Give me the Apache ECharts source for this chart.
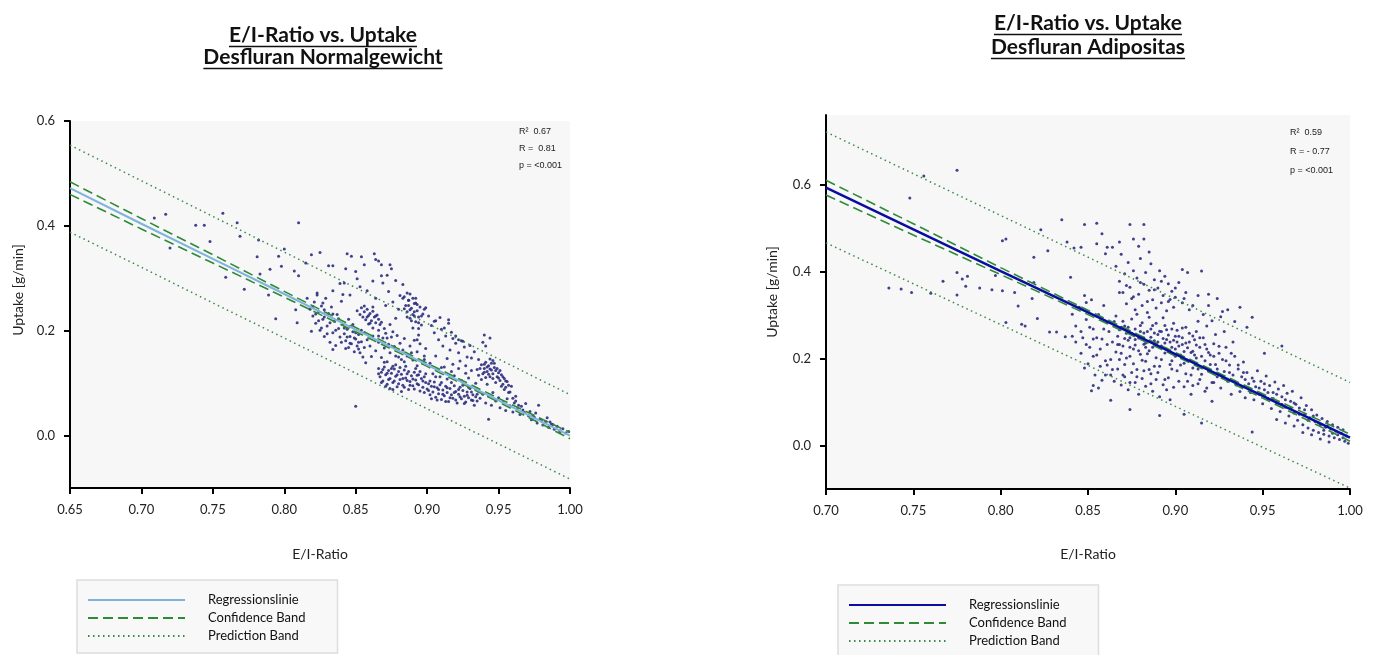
<!DOCTYPE html>
<html><head><meta charset="utf-8">
<script src="https://cdn.jsdelivr.net/npm/echarts@6/dist/echarts.min.js"></script>
<style>
html,body{margin:0;padding:0;background:#fff;}
#wrap{position:relative;width:1375px;height:655px;overflow:hidden;}
#c1{position:absolute;left:0;top:0;width:690px;height:655px;}
#c2{position:absolute;left:690px;top:0;width:685px;height:655px;}
</style></head><body>
<div id="wrap"><div id="c1"></div><div id="c2"></div></div>
<script>
// ---------- texts ----------
const titlesNorm = ['E/I-Ratio vs. Uptake', 'Desfluran Normalgewicht'];
const titlesAdip = ['E/I-Ratio vs. Uptake', 'Desfluran Adipositas'];
const statsNorm = ['R²  0.67', 'R =  0.81', 'p = <0.001'];
const statsAdip = ['R²  0.59', 'R = - 0.77', 'p = <0.001'];
const legendNames = ['Regressionslinie', 'Confidence Band', 'Prediction Band'];
const xAxisName = 'E/I-Ratio';
const yAxisName = 'Uptake [g/min]';
const yTickValues = [0.0, 0.2, 0.4, 0.6];

// ---------- regression / bands : Normalgewicht ----------
const bandXNorm = [0.65, 0.70, 0.75, 0.80, 0.85, 0.90, 0.95, 1.00];
const regNorm   = [0.472, 0.404, 0.337, 0.270, 0.202, 0.135, 0.067, 0.000];
const ciUpNorm  = [0.484, 0.414, 0.345, 0.275, 0.206, 0.138, 0.071, 0.006];
const ciLoNorm  = [0.460, 0.394, 0.329, 0.264, 0.198, 0.132, 0.064, -0.006];
const prUpNorm  = [0.554, 0.486, 0.418, 0.350, 0.282, 0.214, 0.146, 0.078];
const prLoNorm  = [0.388, 0.321, 0.253, 0.186, 0.119, 0.051, -0.016, -0.083];

// ---------- regression / bands : Adipositas ----------
const bandXAdip = [0.70, 0.75, 0.80, 0.85, 0.90, 0.95, 1.00];
const regAdip   = [0.593, 0.497, 0.401, 0.306, 0.210, 0.114, 0.018];
const ciUpAdip  = [0.610, 0.510, 0.409, 0.311, 0.214, 0.119, 0.026];
const ciLoAdip  = [0.576, 0.484, 0.393, 0.301, 0.206, 0.109, 0.010];
const prUpAdip  = [0.721, 0.625, 0.529, 0.433, 0.337, 0.241, 0.145];
const prLoAdip  = [0.466, 0.372, 0.278, 0.184, 0.090, -0.004, -0.098];

// ---------- scatter : Normalgewicht ----------
const scatterNorm = [
[0.709,0.415],[0.717,0.422],[0.720,0.358],[0.738,0.401],[0.744,0.401],[0.748,0.370],[0.757,0.424],[0.759,0.302],[0.767,0.406],[0.769,0.380],[0.772,0.279],[0.782,0.373],[0.781,0.341],[0.783,0.308],[0.789,0.268],[0.790,0.317],[0.794,0.223],[0.796,0.342],[0.798,0.323],[0.800,0.356],[0.807,0.314],[0.810,0.406],[0.810,0.305],[0.808,0.240],[0.809,0.215],[0.815,0.329],[0.819,0.345],[0.825,0.349],[0.823,0.272],[0.827,0.253],[0.831,0.324],[0.834,0.324],[0.841,0.269],[0.842,0.291],[0.844,0.347],[0.847,0.342],[0.843,0.318],[0.850,0.313],[0.851,0.299],[0.854,0.341],[0.856,0.326],[0.863,0.347],[0.864,0.336],[0.866,0.333],[0.868,0.326],[0.872,0.306],[0.874,0.326],[0.883,0.288],[0.886,0.272],[0.881,0.267],[0.887,0.258],[0.892,0.253],[0.888,0.240],[0.891,0.228],[0.894,0.215],[0.893,0.183],[0.899,0.244],[0.905,0.218],[0.909,0.225],[0.915,0.221],[0.912,0.205],[0.917,0.197],[0.920,0.190],[0.922,0.183],[0.925,0.180],[0.850,0.056],[0.943,0.031],[0.978,0.058],[0.988,0.021],[0.993,0.008],
[0.816,0.262],[0.818,0.241],[0.820,0.228],[0.821,0.255],[0.822,0.214],[0.824,0.236],[0.825,0.201],[0.826,0.247],[0.827,0.222],[0.828,0.189],[0.829,0.262],[0.830,0.209],[0.831,0.233],[0.832,0.178],[0.833,0.245],[0.834,0.196],[0.835,0.218],[0.836,0.172],[0.837,0.231],[0.838,0.204],[0.839,0.188],[0.840,0.256],[0.823,0.268],[0.819,0.199],[0.834,0.164],[0.828,0.240],
[0.841,0.212],[0.842,0.194],[0.843,0.181],[0.844,0.203],[0.845,0.168],[0.846,0.189],[0.847,0.175],[0.848,0.198],[0.849,0.160],[0.850,0.184],[0.851,0.171],[0.852,0.193],[0.853,0.158],[0.854,0.179],[0.843,0.166],[0.846,0.208],[0.849,0.186],[0.852,0.165],[0.845,0.222],[0.855,0.150],
[0.851,0.238],[0.853,0.231],[0.854,0.244],[0.855,0.226],[0.856,0.236],[0.857,0.221],[0.858,0.241],[0.859,0.229],[0.860,0.233],[0.861,0.219],[0.862,0.237],[0.863,0.226],[0.864,0.215],[0.865,0.230],[0.866,0.222],[0.867,0.212],[0.856,0.247],[0.862,0.245],[0.859,0.213],
[0.858,0.276],[0.864,0.262],[0.869,0.291],[0.871,0.248],[0.873,0.275],[0.876,0.255],[0.878,0.296],[0.880,0.241],[0.883,0.262],[0.868,0.305],[0.875,0.318],[0.862,0.295],[0.853,0.284],[0.846,0.268],[0.839,0.290],[0.834,0.276],
[0.856,0.196],[0.858,0.183],[0.860,0.171],[0.862,0.190],[0.864,0.162],[0.866,0.178],[0.868,0.149],[0.869,0.186],[0.870,0.167],[0.872,0.141],[0.873,0.174],[0.874,0.158],[0.876,0.132],[0.877,0.170],[0.878,0.152],[0.866,0.201],[0.871,0.195],[0.861,0.151],[0.857,0.139],[0.875,0.188],
[0.884,0.265],[0.885,0.248],[0.886,0.236],[0.887,0.258],[0.888,0.224],[0.889,0.243],[0.890,0.231],[0.891,0.252],[0.892,0.217],[0.893,0.238],[0.894,0.226],[0.895,0.245],[0.896,0.211],[0.897,0.232],[0.888,0.270],[0.892,0.262],[0.890,0.205],
[0.879,0.191],[0.881,0.176],[0.883,0.163],[0.884,0.185],[0.886,0.152],[0.888,0.171],[0.890,0.144],[0.891,0.182],[0.893,0.160],[0.895,0.175],[0.897,0.138],[0.899,0.166],[0.882,0.145],[0.894,0.192],[0.898,0.152],
[0.901,0.228],[0.903,0.210],[0.905,0.196],[0.906,0.219],[0.908,0.183],[0.910,0.203],[0.911,0.171],[0.913,0.190],[0.915,0.214],[0.916,0.163],[0.918,0.185],[0.920,0.176],[0.922,0.158],[0.924,0.181],[0.926,0.169],[0.928,0.150],[0.930,0.172],[0.933,0.160],[0.936,0.145],[0.939,0.178],[0.941,0.171],[0.944,0.186],[0.940,0.192],
[0.866,0.128],[0.867,0.112],[0.868,0.121],[0.869,0.104],[0.870,0.131],[0.871,0.116],[0.872,0.098],[0.873,0.124],[0.874,0.109],[0.875,0.119],[0.876,0.101],[0.877,0.127],[0.878,0.113],[0.879,0.093],[0.880,0.122],[0.881,0.107],[0.882,0.117],[0.883,0.096],[0.884,0.125],[0.885,0.110],[0.886,0.118],[0.887,0.088],[0.888,0.103],[0.889,0.114],[0.890,0.095],[0.891,0.121],[0.892,0.106],[0.893,0.099],[0.894,0.116],[0.895,0.085],[0.896,0.109],[0.897,0.092],[0.898,0.112],[0.899,0.101],[0.870,0.140],[0.878,0.135],[0.885,0.132],[0.892,0.128],[0.874,0.090],[0.882,0.084],
[0.900,0.089],[0.901,0.099],[0.902,0.078],[0.903,0.094],[0.904,0.083],[0.905,0.102],[0.906,0.073],[0.907,0.091],[0.908,0.080],[0.909,0.097],[0.910,0.069],[0.911,0.087],[0.912,0.076],[0.913,0.094],[0.914,0.082],[0.915,0.065],[0.916,0.090],[0.917,0.078],[0.918,0.071],[0.919,0.095],[0.920,0.084],[0.921,0.062],[0.922,0.079],[0.923,0.092],[0.924,0.070],[0.925,0.086],[0.926,0.075],[0.927,0.064],[0.928,0.083],[0.929,0.072],[0.930,0.090],[0.931,0.068],[0.932,0.078],[0.933,0.058],[0.934,0.074],[0.935,0.066],
[0.904,0.118],[0.907,0.126],[0.909,0.112],[0.912,0.131],[0.914,0.108],[0.917,0.122],[0.919,0.114],[0.922,0.128],[0.924,0.105],[0.927,0.119],[0.929,0.110],[0.931,0.124],[0.934,0.100],[0.936,0.115],[0.938,0.107],[0.940,0.121],[0.942,0.098],[0.944,0.112],
[0.938,0.135],[0.940,0.128],[0.941,0.140],[0.942,0.122],[0.943,0.133],[0.944,0.127],[0.945,0.138],[0.946,0.118],[0.947,0.130],[0.948,0.124],[0.949,0.112],[0.950,0.120],[0.951,0.105],[0.952,0.116],[0.953,0.098],[0.954,0.109],[0.955,0.092],[0.956,0.103],[0.957,0.096],[0.944,0.146],[0.946,0.143],
[0.936,0.085],[0.937,0.071],[0.939,0.079],[0.941,0.062],[0.943,0.075],[0.945,0.058],[0.946,0.082],[0.948,0.066],[0.950,0.072],[0.951,0.053],[0.953,0.064],[0.955,0.048],[0.956,0.070],[0.958,0.057],[0.960,0.045],[0.961,0.062],[0.963,0.051],[0.965,0.040],[0.966,0.056],[0.968,0.044],[0.958,0.083],[0.962,0.075],
[0.971,0.038],[0.973,0.030],[0.975,0.035],[0.977,0.024],[0.979,0.031],[0.981,0.020],[0.983,0.027],[0.985,0.016],[0.987,0.022],[0.989,0.012],[0.991,0.018],[0.993,0.009],[0.995,0.013],[0.997,0.005],[0.999,0.008],
[0.866,0.118],[0.868,0.101],[0.869,0.126],[0.871,0.094],[0.872,0.119],[0.873,0.107],[0.875,0.128],[0.876,0.088],[0.877,0.104],[0.879,0.116],[0.880,0.099],[0.881,0.130],[0.883,0.109],[0.884,0.092],[0.886,0.105],[0.887,0.122],[0.888,0.096],[0.890,0.108],[0.891,0.089],[0.893,0.115],[0.894,0.097],[0.895,0.122],[0.897,0.104],[0.898,0.082],[0.899,0.118],[0.901,0.086],[0.902,0.104],[0.903,0.070],[0.905,0.093],[0.906,0.112],[0.907,0.068],[0.908,0.088],[0.910,0.101],[0.911,0.079],[0.913,0.065],[0.914,0.091],[0.916,0.072],[0.917,0.101],[0.919,0.082],[0.920,0.068],[0.922,0.088],[0.923,0.074],[0.925,0.096],[0.926,0.061],[0.928,0.077],[0.929,0.092],[0.931,0.083],[0.932,0.067],[0.934,0.088],[0.935,0.079],
[0.937,0.128],[0.939,0.118],[0.940,0.136],[0.941,0.111],[0.942,0.131],[0.943,0.117],[0.945,0.125],[0.946,0.109],[0.947,0.138],[0.948,0.101],[0.949,0.128],[0.950,0.110],[0.951,0.124],[0.952,0.094],[0.953,0.112],[0.954,0.088],[0.955,0.104],[0.957,0.082],[0.959,0.094],[0.960,0.071],
[0.820,0.246],[0.822,0.232],[0.824,0.219],[0.826,0.205],[0.828,0.226],[0.830,0.194],[0.832,0.215],[0.834,0.232],[0.836,0.201],[0.838,0.223],[0.840,0.178],[0.842,0.205],[0.844,0.188],[0.846,0.176],[0.848,0.212],[0.850,0.196],[0.852,0.178],[0.854,0.201],[0.856,0.168],[0.858,0.226],[0.860,0.214],[0.862,0.205],[0.864,0.228],[0.866,0.190],[0.868,0.216],[0.870,0.204],[0.872,0.186],[0.874,0.212],[0.876,0.198],[0.878,0.224],
[0.884,0.242],[0.886,0.226],[0.887,0.248],[0.889,0.219],[0.890,0.262],[0.891,0.236],[0.893,0.250],[0.894,0.204],[0.896,0.228],[0.898,0.241],
[0.880,0.150],[0.884,0.141],[0.889,0.158],[0.893,0.133],[0.898,0.145],[0.902,0.138],[0.906,0.152],[0.910,0.130],[0.914,0.147],[0.918,0.136],[0.923,0.142],[0.927,0.133],[0.931,0.148],[0.935,0.126],
[0.962,0.066],[0.964,0.058],[0.967,0.049],[0.969,0.061],[0.972,0.046],[0.974,0.038],[0.976,0.043],[0.980,0.028],[0.984,0.034],[0.986,0.026]
];

// ---------- scatter : Adipositas ----------
const scatterAdip = [
[0.748,0.569],[0.756,0.620],[0.775,0.633],[0.736,0.362],[0.743,0.360],[0.749,0.352],[0.760,0.350],[0.767,0.378],[0.775,0.398],[0.775,0.346],[0.778,0.383],[0.781,0.389],[0.780,0.366],[0.788,0.362],[0.795,0.358],[0.797,0.391],[0.801,0.471],[0.803,0.475],[0.801,0.356],[0.803,0.283],[0.808,0.352],[0.810,0.321],[0.814,0.275],[0.812,0.279],[0.818,0.338],[0.819,0.433],[0.819,0.375],[0.821,0.292],[0.823,0.496],[0.827,0.448],[0.828,0.261],[0.832,0.261],[0.835,0.519],[0.838,0.468],[0.837,0.250],[0.840,0.387],[0.842,0.454],[0.846,0.456],[0.848,0.508],[0.848,0.345],[0.841,0.251],[0.849,0.329],[0.853,0.138],[0.853,0.245],[0.855,0.511],[0.855,0.464],[0.858,0.487],[0.860,0.441],[0.861,0.456],[0.864,0.456],[0.863,0.104],[0.868,0.468],[0.874,0.508],[0.874,0.083],[0.876,0.475],[0.882,0.508],[0.882,0.475],[0.891,0.069],[0.904,0.405],[0.907,0.398],[0.915,0.401],[0.919,0.348],[0.927,0.308],[0.905,0.072],[0.915,0.052],[0.944,0.031],[0.951,0.212],[0.961,0.229],
[0.866,0.412],[0.868,0.378],[0.869,0.440],[0.870,0.352],[0.871,0.395],[0.872,0.326],[0.873,0.421],[0.874,0.364],[0.875,0.338],[0.876,0.402],[0.877,0.312],[0.878,0.385],[0.879,0.348],[0.880,0.430],[0.881,0.322],[0.882,0.371],[0.883,0.398],[0.884,0.306],[0.885,0.357],[0.886,0.418],[0.887,0.335],[0.888,0.381],[0.889,0.316],[0.890,0.362],[0.891,0.402],[0.892,0.328],[0.893,0.345],[0.894,0.389],[0.895,0.310],[0.896,0.372],[0.897,0.336],[0.898,0.355],[0.899,0.318],[0.900,0.341],[0.902,0.375],[0.904,0.328],[0.906,0.352],[0.908,0.312],[0.885,0.445],[0.879,0.458],
[0.862,0.262],[0.864,0.238],[0.865,0.285],[0.866,0.215],[0.867,0.251],[0.868,0.198],[0.869,0.272],[0.870,0.229],[0.871,0.186],[0.872,0.258],[0.873,0.242],[0.874,0.205],[0.875,0.291],[0.876,0.222],[0.877,0.268],[0.878,0.175],[0.879,0.247],[0.880,0.210],[0.881,0.282],[0.882,0.233],[0.883,0.194],[0.884,0.262],[0.885,0.218],[0.886,0.165],[0.887,0.276],[0.888,0.241],[0.889,0.202],[0.890,0.255],[0.891,0.182],[0.892,0.229],[0.893,0.294],[0.894,0.213],[0.895,0.266],[0.896,0.156],[0.897,0.238],[0.898,0.195],[0.899,0.281],[0.900,0.222],[0.901,0.172],[0.902,0.251],[0.903,0.208],[0.904,0.270],[0.905,0.189],[0.906,0.236],[0.907,0.148],[0.908,0.258],[0.909,0.214],[0.910,0.178],[0.911,0.243],[0.912,0.201],[0.913,0.286],[0.914,0.226],[0.915,0.164],
[0.868,0.232],[0.871,0.275],[0.874,0.248],[0.877,0.231],[0.880,0.262],[0.883,0.226],[0.886,0.249],[0.889,0.233],[0.892,0.262],[0.895,0.244],[0.898,0.226],[0.901,0.238],[0.904,0.232],[0.907,0.225],[0.910,0.217],[0.876,0.254],[0.882,0.247],[0.888,0.259],[0.894,0.236],[0.900,0.251],
[0.861,0.185],[0.863,0.162],[0.865,0.148],[0.867,0.176],[0.869,0.139],[0.871,0.158],[0.873,0.128],[0.875,0.168],[0.877,0.145],[0.879,0.118],[0.881,0.154],[0.883,0.136],[0.885,0.175],[0.887,0.125],[0.889,0.152],[0.891,0.112],[0.893,0.140],[0.895,0.128],[0.897,0.105],[0.899,0.134],
[0.916,0.248],[0.917,0.195],[0.918,0.222],[0.919,0.172],[0.920,0.208],[0.921,0.145],[0.922,0.234],[0.923,0.186],[0.924,0.158],[0.925,0.212],[0.926,0.132],[0.927,0.198],[0.928,0.170],[0.929,0.226],[0.930,0.148],[0.931,0.185],[0.932,0.118],[0.933,0.162],[0.934,0.205],[0.935,0.139],[0.936,0.176],[0.937,0.124],[0.938,0.158],[0.939,0.192],[0.940,0.110],[0.905,0.135],[0.909,0.118],[0.913,0.142],[0.917,0.125],[0.921,0.102],[0.912,0.262],[0.918,0.275],[0.923,0.255],[0.928,0.262],[0.933,0.238],
[0.916,0.301],[0.919,0.322],[0.921,0.287],[0.924,0.338],[0.926,0.296],[0.930,0.312],[0.934,0.285],[0.937,0.318],[0.941,0.272],[0.944,0.295],
[0.941,0.168],[0.942,0.142],[0.943,0.122],[0.944,0.155],[0.945,0.105],[0.946,0.135],[0.947,0.172],[0.948,0.118],[0.949,0.148],[0.950,0.096],[0.951,0.128],[0.952,0.160],[0.953,0.108],[0.954,0.138],[0.955,0.085],[0.956,0.122],[0.957,0.146],[0.958,0.098],[0.959,0.130],[0.960,0.078],[0.961,0.112],[0.962,0.138],[0.963,0.088],[0.964,0.120],[0.965,0.068],[0.966,0.102],[0.967,0.125],[0.968,0.075],[0.969,0.095],[0.970,0.058],[0.971,0.086],[0.972,0.110],[0.973,0.048],[0.974,0.072],[0.975,0.092],[0.976,0.040],[0.977,0.064],[0.978,0.082],[0.979,0.035],[0.980,0.055],[0.981,0.070],[0.982,0.030],[0.983,0.048],[0.984,0.062],[0.985,0.026],[0.986,0.042],[0.987,0.055],[0.988,0.022],[0.989,0.038],[0.990,0.048],[0.991,0.018],[0.992,0.033],[0.993,0.042],[0.994,0.014],[0.995,0.028],[0.996,0.036],[0.997,0.010],[0.998,0.022],[0.999,0.005],[0.958,0.060],[0.963,0.052],[0.968,0.045],[0.973,0.030],[0.978,0.025],[0.983,0.015],[0.988,0.008],
[0.841,0.302],[0.843,0.275],[0.845,0.318],[0.847,0.248],[0.849,0.290],[0.851,0.226],[0.852,0.335],[0.853,0.268],[0.855,0.208],[0.856,0.301],[0.857,0.182],[0.858,0.245],[0.859,0.322],[0.860,0.195],[0.861,0.282],[0.846,0.212],[0.850,0.188],[0.854,0.162],[0.858,0.150],[0.852,0.126],
[0.866,0.298],[0.867,0.232],[0.868,0.266],[0.869,0.212],[0.870,0.286],[0.871,0.246],[0.872,0.201],[0.873,0.272],[0.874,0.226],[0.875,0.258],[0.876,0.188],[0.877,0.244],[0.878,0.302],[0.879,0.218],[0.880,0.276],[0.881,0.196],[0.882,0.259],[0.883,0.236],[0.884,0.211],[0.885,0.295],[0.886,0.268],[0.887,0.226],[0.888,0.182],[0.889,0.281],[0.890,0.238],[0.891,0.263],[0.892,0.198],[0.893,0.246],[0.894,0.276],[0.895,0.222],[0.896,0.254],[0.897,0.186],[0.898,0.268],[0.899,0.242],[0.900,0.205],[0.901,0.265],[0.902,0.229],[0.903,0.185],[0.904,0.248],[0.905,0.216],[0.906,0.272],[0.907,0.196],[0.908,0.238],[0.909,0.162],[0.910,0.252],[0.911,0.208],[0.912,0.231],[0.913,0.176],[0.914,0.248],[0.915,0.205],
[0.917,0.232],[0.919,0.214],[0.920,0.186],[0.922,0.205],[0.924,0.176],[0.925,0.228],[0.927,0.158],[0.929,0.195],[0.931,0.168],[0.932,0.212],[0.934,0.148],[0.936,0.185],[0.938,0.135],[0.939,0.168],[0.940,0.152],
[0.868,0.352],[0.872,0.368],[0.876,0.342],[0.880,0.375],[0.884,0.331],[0.888,0.358],[0.892,0.378],[0.896,0.331],[0.900,0.362],[0.905,0.338],[0.910,0.322],[0.913,0.345],
[0.870,0.162],[0.874,0.145],[0.878,0.158],[0.882,0.172],[0.886,0.142],[0.890,0.168],[0.894,0.152],[0.898,0.176],[0.902,0.148],[0.906,0.165],[0.910,0.138],[0.914,0.152],[0.918,0.132],[0.922,0.145],
[0.945,0.148],[0.948,0.132],[0.951,0.142],[0.953,0.122],[0.956,0.108],[0.958,0.118],[0.961,0.095],[0.963,0.105],[0.966,0.085],[0.968,0.098],[0.971,0.072],[0.974,0.082],[0.976,0.058],[0.979,0.068],[0.982,0.052],[0.985,0.035],[0.987,0.045],[0.990,0.028],[0.993,0.025],[0.996,0.018],
[0.843,0.238],[0.846,0.262],[0.849,0.232],[0.851,0.272],[0.853,0.205],[0.855,0.248],[0.857,0.222],[0.859,0.268],[0.861,0.232],[0.863,0.198],[0.848,0.178],[0.856,0.132],[0.860,0.162],[0.864,0.175]
];

// ---------- helpers ----------
const FONT = 'Lato, "Open Sans", sans-serif';
const measureCtx = document.createElement('canvas').getContext('2d');
function textWidth(t, font) { measureCtx.font = font; return measureCtx.measureText(t).width; }
function pairs(xs, ys) { return xs.map((x, i) => [x, ys[i]]); }

function lineSeries(name, data, color, width, type, z) {
  return { name, type: 'line', data, symbol: 'none', showSymbol: false, silent: true, z,
    lineStyle: { color, width, type }, itemStyle: { color } };
}

function buildOption(c) {
  const titleFont = 'bold 21px ' + FONT;
  const graphics = [];
  c.titles.forEach((t, i) => {
    const y = c.titleY[i];
    graphics.push({ type: 'text', x: c.titleX, y, silent: true,
      style: { text: t, font: titleFont, fill: '#111', align: 'center', verticalAlign: 'middle', textAlign: 'center', textVerticalAlign: 'middle' } });
    const w = textWidth(t, titleFont);
    graphics.push({ type: 'line', silent: true,
      shape: { x1: c.titleX - w / 2, y1: y + 11.5, x2: c.titleX + w / 2, y2: y + 11.5 },
      style: { stroke: '#111', lineWidth: 1.5 } });
  });
  c.stats.forEach((t, i) => {
    graphics.push({ type: 'text', x: c.statsX, y: c.statsY[i], silent: true,
      style: { text: t, font: '9px "Liberation Sans", Arial, sans-serif', fill: '#222', align: 'left', verticalAlign: 'middle', textAlign: 'left', textVerticalAlign: 'middle' } });
  });
  graphics.push({ type: 'text', x: c.yNameX, y: c.yNameY, rotation: Math.PI / 2, silent: true,
    style: { text: yAxisName, font: '14px ' + FONT, fill: '#222', align: 'center', verticalAlign: 'middle', textAlign: 'center', textVerticalAlign: 'middle' } });

  return {
    animation: false,
    backgroundColor: '#ffffff',
    grid: { left: c.gl, top: c.gt, width: c.gw, height: c.gh, show: true, backgroundColor: '#f7f7f7', borderWidth: 0 },
    xAxis: {
      type: 'value', min: c.xmin, max: 1.0, interval: 0.05,
      name: xAxisName, nameLocation: 'middle', nameGap: c.xNameGap,
      nameTextStyle: { fontFamily: FONT, fontSize: 14, color: '#222' },
      axisLine: { show: true, onZero: false, lineStyle: { color: '#000', width: 2 } },
      axisTick: { show: true, length: 6, lineStyle: { color: '#000', width: 2 } },
      axisLabel: { formatter: v => v.toFixed(2), fontFamily: FONT, fontSize: 13, color: '#222', margin: 15 },
      splitLine: { show: false }
    },
    yAxis: {
      type: 'value', min: -0.1, max: c.ymax,
      axisLine: { show: true, onZero: false, lineStyle: { color: '#000', width: 2 } },
      axisTick: { show: true, length: 6, customValues: yTickValues, lineStyle: { color: '#000', width: 2 } },
      axisLabel: { customValues: yTickValues, formatter: v => v.toFixed(1), fontFamily: FONT, fontSize: 13, color: '#222', margin: 15 },
      splitLine: { show: false }
    },
    legend: {
      orient: 'vertical', left: c.legLeft, top: c.legTop, height: 120,
      data: legendNames,
      itemWidth: 97, itemHeight: 14, itemGap: 4,
      padding: [13, 32, 10, 10],
      backgroundColor: '#f8f8f8', borderColor: '#dddddd', borderWidth: 1.5, borderRadius: 0,
      selectedMode: false,
      itemStyle: { opacity: 0 },
      textStyle: { fontFamily: FONT, fontSize: 13, lineHeight: 14, color: '#111', padding: [0, 0, 0, 18] }
    },
    series: [
      { name: 'Daten', type: 'scatter', data: c.scatter, symbolSize: 3, silent: true, z: 1,
        itemStyle: { color: '#2c2c7e', opacity: 0.9 } },
      lineSeries('Prediction Band', pairs(c.bx, c.prUp), '#3a8a46', 1.5, [1.5, 3.5], 2),
      lineSeries('Prediction Band', pairs(c.bx, c.prLo), '#3a8a46', 1.5, [1.5, 3.5], 2),
      lineSeries('Confidence Band', pairs(c.bx, c.ciUp), '#2f8a36', 1.6, [10, 5], 3),
      lineSeries('Confidence Band', pairs(c.bx, c.ciLo), '#2f8a36', 1.6, [10, 5], 3),
      lineSeries('Regressionslinie', pairs(c.bx, c.reg), c.regColor, c.regWidth, 'solid', 4)
    ],
    graphic: graphics
  };
}

const chartNorm = echarts.init(document.getElementById('c1'), null, { renderer: 'canvas' });
chartNorm.setOption(buildOption({
  titles: titlesNorm, titleX: 323, titleY: [35, 57],
  stats: statsNorm, statsX: 519, statsY: [132, 149, 166],
  yNameX: 18, yNameY: 290,
  gl: 70, gt: 121, gw: 500, gh: 367, xmin: 0.65, ymax: 0.6, xNameGap: 59,
  legLeft: 77, legTop: 580,
  scatter: scatterNorm, bx: bandXNorm, reg: regNorm, ciUp: ciUpNorm, ciLo: ciLoNorm, prUp: prUpNorm, prLo: prLoNorm,
  regColor: '#7fb2dc', regWidth: 2
}));

const chartAdip = echarts.init(document.getElementById('c2'), null, { renderer: 'canvas' });
chartAdip.setOption(buildOption({
  titles: titlesAdip, titleX: 398, titleY: [23, 47],
  stats: statsAdip, statsX: 600, statsY: [133, 152, 171],
  yNameX: 82, yNameY: 292,
  gl: 136, gt: 115, gw: 524, gh: 374, xmin: 0.70, ymax: 0.76, xNameGap: 58,
  legLeft: 148, legTop: 585,
  scatter: scatterAdip, bx: bandXAdip, reg: regAdip, ciUp: ciUpAdip, ciLo: ciLoAdip, prUp: prUpAdip, prLo: prLoAdip,
  regColor: '#0b0ca0', regWidth: 2.5
}));
</script>
</body></html>
